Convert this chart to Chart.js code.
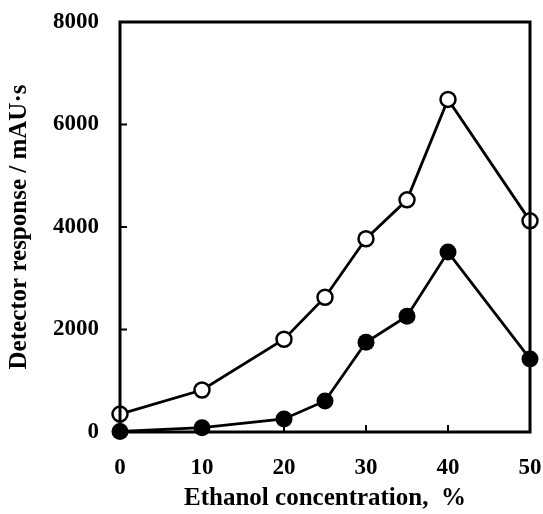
<!DOCTYPE html>
<html lang="en">
<head>
    <meta charset="UTF-8">
    <title>Detector response vs ethanol concentration</title>
    <script src="https://cdn.jsdelivr.net/npm/chart.js"></script>
    <style>
        body { margin: 0; background: #fff; }
        #wrap { width: 543px; height: 514px; }
    </style>
</head>
<body>
    <div id="wrap"><canvas id="chart"></canvas></div>

    <script>
        const ethanol = [0, 10, 20, 25, 30, 35, 40, 50];
        const openSeries = [350, 820, 1810, 2630, 3770, 4530, 6490, 4120];
        const filledSeries = [10, 85, 255, 605, 1750, 2260, 3510, 1425];
        const xTicks = [0, 10, 20, 30, 40, 50];
        const yTicks = [0, 2000, 4000, 6000, 8000];

        const serif = '"Liberation Serif", "Times New Roman", serif';
        const tickFont = { family: serif, size: 23, weight: 'bold' };
        const titleFont = { family: serif, size: 25, weight: 'bold' };

        // box round the plot and short ticks pointing inward
        const framePlugin = {
            id: 'frame',
            afterDatasetsDraw(chart) {
                const { ctx, chartArea: a, scales } = chart;
                ctx.save();
                ctx.strokeStyle = '#000';
                ctx.lineWidth = 3;
                ctx.strokeRect(a.left, a.top, a.right - a.left, a.bottom - a.top);
                ctx.lineWidth = 2;
                ctx.beginPath();
                xTicks.forEach(v => {
                    const x = scales.x.getPixelForValue(v);
                    ctx.moveTo(x, a.bottom);
                    ctx.lineTo(x, a.bottom - 7);
                });
                yTicks.forEach(v => {
                    const y = scales.y.getPixelForValue(v);
                    ctx.moveTo(a.left, y);
                    ctx.lineTo(a.left + 7, y);
                });
                ctx.stroke();
                ctx.restore();
            }
        };

        const pts = arr => ethanol.map((x, i) => ({ x: x, y: arr[i] }));

        new Chart(document.getElementById('chart'), {
            type: 'line',
            data: {
                datasets: [{
                    data: pts(openSeries),
                    borderColor: '#000',
                    borderWidth: 2.8,
                    pointRadius: 7.5,
                    pointBorderWidth: 2.5,
                    pointBackgroundColor: '#fff',
                    pointBorderColor: '#000',
                    clip: false
                }, {
                    data: pts(filledSeries),
                    borderColor: '#000',
                    borderWidth: 2.8,
                    pointRadius: 8.5,
                    pointBorderWidth: 0,
                    pointBackgroundColor: '#000',
                    clip: false
                }]
            },
            options: {
                responsive: true,
                maintainAspectRatio: false,
                animation: false,
                layout: { padding: { left: 0, right: 13, top: 22, bottom: 0 } },
                plugins: { legend: { display: false }, tooltip: { enabled: false } },
                scales: {
                    x: {
                        type: 'linear',
                        min: 0,
                        max: 50,
                        afterFit(s) { s.height = 82; s.paddingLeft = 0; s.paddingRight = 0; },
                        afterBuildTicks(s) { s.ticks = xTicks.map(v => ({ value: v })); },
                        grid: { display: false, drawTicks: false },
                        border: { display: false },
                        ticks: { color: '#000', font: tickFont, padding: 22, maxRotation: 0, callback: v => String(v) },
                        title: {
                            display: true,
                            text: 'Ethanol concentration,  %',
                            color: '#000',
                            font: titleFont,
                            padding: { top: 0, bottom: 0 }
                        }
                    },
                    y: {
                        min: 0,
                        max: 8000,
                        afterFit(s) { s.width = 120; s.paddingTop = 0; s.paddingBottom = 0; },
                        afterBuildTicks(s) { s.ticks = yTicks.map(v => ({ value: v })); },
                        grid: { display: false, drawTicks: false },
                        border: { display: false },
                        ticks: { color: '#000', font: tickFont, padding: 21, callback: v => String(v) },
                        title: {
                            display: true,
                            text: 'Detector response / mAU·s',
                            color: '#000',
                            font: titleFont,
                            padding: { top: 5, bottom: 0 }
                        }
                    }
                }
            },
            plugins: [framePlugin]
        });
    </script>
</body>
</html>
